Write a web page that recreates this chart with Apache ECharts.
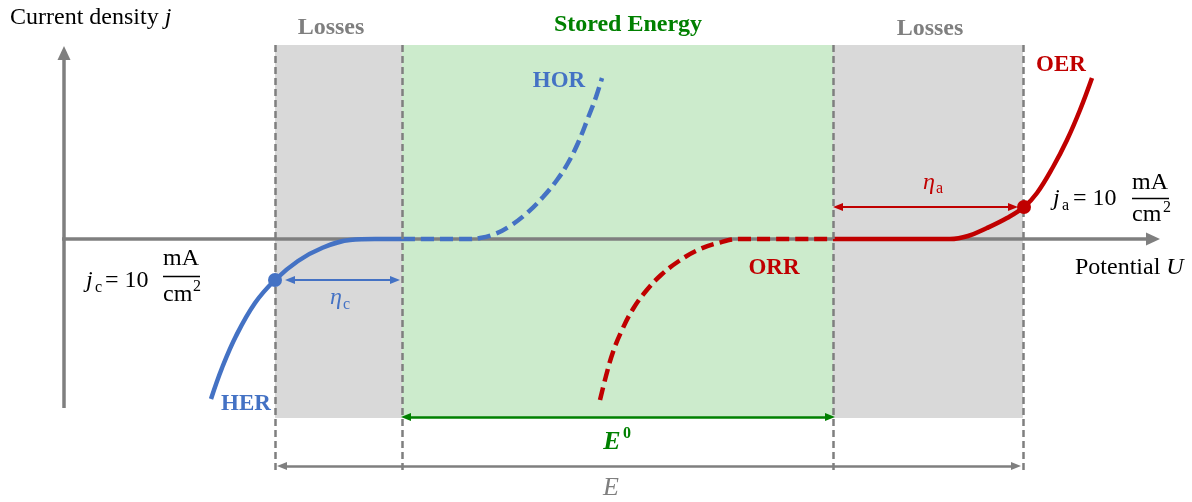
<!DOCTYPE html>
<html>
<head>
<meta charset="utf-8">
<script src="https://cdn.jsdelivr.net/npm/echarts@6/dist/echarts.min.js"></script>
<style>
  html, body { margin: 0; padding: 0; background: #ffffff; }
  #chart { width: 1192px; height: 502px; }
</style>
</head>
<body>
<div id="chart"></div>
<script>
// Potential (x) against current density (y), in plot units; the axes cross at (0, 0).
const herCurve = [[147,-160],[158,-129],[172,-97],[191,-64],[211,-41],[234,-22],[258,-9],[286,-1],[311,0],[338,0]];
const horCurve = [[338,0],[401,0],[416,1],[431,5],[446,13],[463,26],[479,42],[493,59],[504,76],[514,96],[524,121],[532,142],[538,161]];
const orrCurve = [[536,-161],[542,-137],[549,-113],[558,-91],[569,-70],[582,-52],[597,-36],[615,-22],[634,-11],[654,-4],[676,0],[769,0]];
const oerCurve = [[769,0],[886,0],[904,3],[923,11],[943,21],[960,32],[973,46],[989,72],[1003,99],[1016,129],[1028,161]];

// Potentials that bound the loss and stored-energy bands
const bandEdges = [211, 338, 769, 959];
const bandKinds = ['loss', 'stored', 'loss'];
const bandTop = 194, bandBottom = -179, guideBottom = -231;

// Points where j reaches 10 mA/cm2
const cathodicPoint = [211, -41];
const anodicPoint = [960, 32];

// Dimension spans: [from, to, level]
const etaCSpan = [221, 336, -41];
const etaASpan = [769, 954, 32];
const e0Span = [337, 771, -178];
const eSpan = [213, 957, -227];

// Axis extents
const xAxisEnd = 1096, yAxisBottom = -169, yAxisEnd = 193;

const BLUE = '#4472C4', RED = '#C00000', GREEN = '#008000', GREY = '#7F7F7F';
const BAND_FILL = { loss: '#D9D9D9', stored: '#CCEBCC' };
const SERIF = "'Liberation Serif','Times New Roman',serif";

// Pull both ends of a segment in by half an arrow head so the tips land on the ends
function span(from, to, level, head, color, width) {
  return [
    { coord: [from + head / 2, level], symbol: 'triangle', symbolSize: [8, head],
      lineStyle: { color: color, width: width, type: 'solid' } },
    { coord: [to - head / 2, level], symbol: 'triangle', symbolSize: [8, head] }
  ];
}

function text(x, y, formatter, opts) {
  return {
    value: [x, y],
    label: Object.assign({
      show: true, position: [0, 0], formatter: formatter, opacity: 1,
      fontFamily: SERIF, fontSize: 24, color: '#000',
      align: 'left', verticalAlign: 'middle'
    }, opts || {})
  };
}

const italic = { fontStyle: 'italic' };
const sub = { fontSize: 16 };
const plainRich = {
  r: { fontFamily: SERIF, fontSize: 24, color: '#000' },
  i: { fontFamily: SERIF, fontSize: 24, fontStyle: 'italic', color: '#000' }
};

const labelItems = [
  text(-54, 221, '{r|Current density }{i|j}', { rich: plainRich }),
  text(267, 211, 'Losses', { align: 'center', fontWeight: 'bold', color: GREY }),
  text(564, 214, 'Stored Energy', { align: 'center', fontWeight: 'bold', color: GREEN }),
  text(866, 210, 'Losses', { align: 'center', fontWeight: 'bold', color: GREY }),
  text(495, 158, 'HOR', { align: 'center', fontWeight: 'bold', fontSize: 23, color: BLUE }),
  text(997, 174, 'OER', { align: 'center', fontWeight: 'bold', fontSize: 23, color: RED }),
  text(710, -29, 'ORR', { align: 'center', fontWeight: 'bold', fontSize: 23, color: RED }),
  text(182, -165, 'HER', { align: 'center', fontWeight: 'bold', fontSize: 23, color: BLUE }),
  text(1011, -29, '{r|Potential }{i|U}', { rich: plainRich }),
  // overpotentials
  text(272, -59, 'η', Object.assign({ align: 'center', color: BLUE }, italic)),
  text(279, -66, 'c', Object.assign({ color: BLUE }, sub)),
  text(865, 56, 'η', Object.assign({ align: 'center', color: RED }, italic)),
  text(872, 50, 'a', Object.assign({ color: RED }, sub)),
  // cell voltages
  text(548, -203, 'E', { align: 'center', fontSize: 26, fontWeight: 'bold', fontStyle: 'italic', color: GREEN }),
  text(559, -195, '0', { fontSize: 16, fontWeight: 'bold', color: GREEN }),
  text(547, -249, 'E', { align: 'center', fontSize: 26, fontStyle: 'italic', color: GREY }),
  // j_c = 10 mA/cm2
  text(22, -42, 'j', italic),
  text(31, -49, 'c', sub),
  text(41, -42, '= 10'),
  text(117, -20, 'mA', { align: 'center' }),
  text(99, -56, 'cm'),
  text(129, -48, '2', sub),
  // j_a = 10 mA/cm2
  text(989, 40, 'j', italic),
  text(998, 33, 'a', sub),
  text(1009, 40, '= 10'),
  text(1086, 56, 'mA', { align: 'center' }),
  text(1068, 24, 'cm'),
  text(1099, 31, '2', sub)
];

// Fraction bars: [from, to, level]
const fractionBars = [[99, 136, -37], [1068, 1105, 41]];

const bands = bandKinds.map((k, i) => [bandEdges[i], bandEdges[i + 1], k]);

function curve(name, data, color, dashed) {
  return {
    name: name, type: 'line', data: data, z: 3,
    symbol: 'none', smooth: 0.4, silent: true,
    lineStyle: { color: color, width: 4.5, type: dashed ? [13, 6] : 'solid', cap: 'butt' }
  };
}

const chart = echarts.init(document.getElementById('chart'), null, { renderer: 'canvas' });
chart.setOption({
  animation: false,
  backgroundColor: '#ffffff',
  grid: { left: 0, right: 0, top: 0, bottom: 0 },
  xAxis: { type: 'value', min: -64, max: 1128, show: false },
  yAxis: { type: 'value', min: -263, max: 239, show: false },
  series: [
    {
      name: 'bands', type: 'custom', z: 1, silent: true,
      data: bands,
      renderItem: function (params, api) {
        const p0 = api.coord([api.value(0), bandTop]);
        const p1 = api.coord([api.value(1), bandBottom]);
        const kind = bands[params.dataIndex][2];
        return {
          type: 'rect',
          shape: { x: p0[0], y: p0[1], width: p1[0] - p0[0], height: p1[1] - p0[1] },
          style: { fill: BAND_FILL[kind] }
        };
      }
    },
    Object.assign(curve('HER', herCurve, BLUE, false), {
      markLine: {
        z: 2, silent: true, animation: false,
        symbol: ['none', 'triangle'], symbolSize: [13, 14],
        label: { show: false },
        lineStyle: { color: GREY, width: 3.5, type: 'solid' },
        data: [
          [{ coord: [-2, 0] }, { coord: [xAxisEnd - 7, 0] }],
          [{ coord: [0, yAxisBottom] }, { coord: [0, yAxisEnd - 7] }]
        ]
      }
    }),
    curve('HOR', horCurve, BLUE, true),
    curve('ORR', orrCurve, RED, true),
    curve('OER', oerCurve, RED, false),
    {
      name: 'points', type: 'scatter', z: 6, silent: true,
      symbolSize: 14,
      itemStyle: { opacity: 1 },
      data: [
        { value: cathodicPoint, itemStyle: { color: BLUE, opacity: 1 } },
        { value: anodicPoint, itemStyle: { color: RED, opacity: 1 } }
      ],
      markLine: {
        z: 4, silent: true, animation: false,
        symbol: ['none', 'none'],
        label: { show: false },
        lineStyle: { color: GREY, width: 2.5, type: [7, 4] },
        data: bandEdges.map(x => [{ coord: [x, bandTop] }, { coord: [x, guideBottom] }])
      }
    },
    {
      name: 'labels', type: 'scatter', z: 7, silent: true,
      symbolSize: 0,
      itemStyle: { opacity: 1 },
      data: labelItems,
      markLine: {
        z: 5, silent: true, animation: false,
        label: { show: false },
        data: [
          span(etaCSpan[0], etaCSpan[1], etaCSpan[2], 10, BLUE, 2),
          span(etaASpan[0], etaASpan[1], etaASpan[2], 10, RED, 2),
          span(e0Span[0], e0Span[1], e0Span[2], 10, GREEN, 2.5),
          span(eSpan[0], eSpan[1], eSpan[2], 10, GREY, 2.5)
        ].concat(fractionBars.map(b => [
          { coord: [b[0], b[2]], symbol: 'none', lineStyle: { color: '#000', width: 1.3, type: 'solid' } },
          { coord: [b[1], b[2]], symbol: 'none' }
        ]))
      }
    }
  ]
});
</script>
</body>
</html>
